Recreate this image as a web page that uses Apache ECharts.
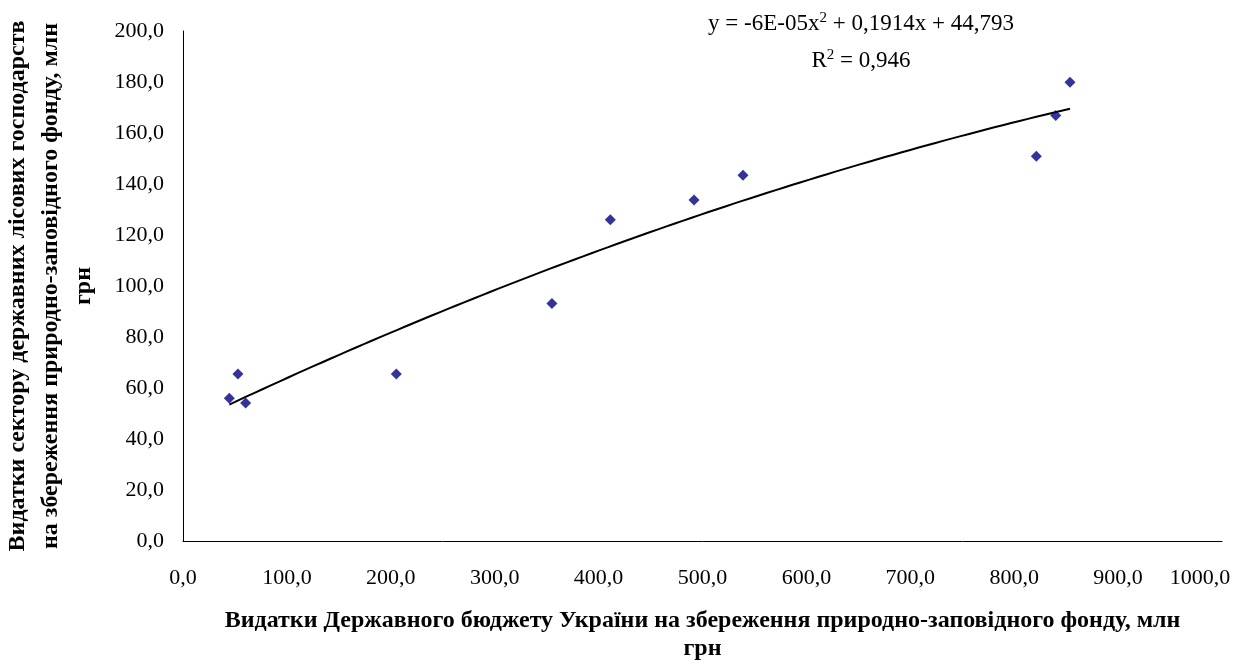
<!DOCTYPE html>
<html>
<head>
<meta charset="utf-8">
<title>Видатки на збереження природно-заповідного фонду</title>
<script src="https://cdn.jsdelivr.net/npm/echarts@6/dist/echarts.min.js"></script>
<style>
  html, body { margin: 0; padding: 0; background: #ffffff; }
  #chart { width: 1248px; height: 665px; }
</style>
</head>
<body>
<div id="chart"></div>
<script>
// State budget spending on the nature reserve fund (x), million UAH
const budgetSpending = [44.6, 52.9, 60.3, 205.3, 355.1, 411.3, 491.8, 539.0, 821.3, 840.0, 853.7];
// State forestry sector spending on the nature reserve fund (y), million UAH
const forestrySpending = [56.0, 65.5, 54.1, 65.5, 93.1, 126.0, 133.7, 143.4, 150.9, 166.9, 179.9];

const xAxisTitle = 'Видатки Державного бюджету України на збереження природно-заповідного фонду, млн\nгрн';
const yAxisTitle = 'Видатки сектору державних лісових господарств\nна збереження природно-заповідного фонду, млн\nгрн';
const trendEquation = ['y = -6E-05x', '2', ' + 0,1914x + 44,793'];
const trendR2 = ['R', '2', ' = 0,946'];

const X_MAX = 1000;
const FONT = '"Liberation Serif", "Times New Roman", serif';

// Scatter points as [x, y] pairs
const points = budgetSpending.map((x, i) => [x, forestrySpending[i]]);

// Second-order polynomial least-squares trend over the observed x range
function quadFit(xs, ys) {
  let s0 = xs.length, s1 = 0, s2 = 0, s3 = 0, s4 = 0, t0 = 0, t1 = 0, t2 = 0;
  for (let i = 0; i < xs.length; i++) {
    const x = xs[i], y = ys[i];
    s1 += x; s2 += x * x; s3 += x * x * x; s4 += x * x * x * x;
    t0 += y; t1 += x * y; t2 += x * x * y;
  }
  // Solve the 3x3 normal equations by Cramer's rule
  const M = [[s4, s3, s2], [s3, s2, s1], [s2, s1, s0]];
  const R = [t2, t1, t0];
  const det = m => m[0][0] * (m[1][1] * m[2][2] - m[1][2] * m[2][1])
                - m[0][1] * (m[1][0] * m[2][2] - m[1][2] * m[2][0])
                + m[0][2] * (m[1][0] * m[2][1] - m[1][1] * m[2][0]);
  const D = det(M);
  return [0, 1, 2].map(k => {
    const mk = M.map((row, r) => row.map((v, c) => (c === k ? R[r] : v)));
    return det(mk) / D;
  }); // [a, b, c]
}
const [qa, qb, qc] = quadFit(budgetSpending, forestrySpending);
const xMin = Math.min(...budgetSpending);
const xMax = Math.max(...budgetSpending);
const trendPoints = [];
for (let k = 0; k <= 100; k++) {
  const x = xMin + (xMax - xMin) * k / 100;
  trendPoints.push([x, qa * x * x + qb * x + qc]);
}

const fmt = v => v.toFixed(1).replace('.', ',');
// The last x label is pulled inside the chart edge
const fmtX = v => (v === X_MAX ? '{last|' + fmt(v) + '}' : fmt(v));

const richEq = {
  b: { fontFamily: FONT, fontSize: 23, fill: '#000' },
  s: { fontFamily: FONT, fontSize: 15, fill: '#000', verticalAlign: 'top', padding: [0, 0, 12, 0] }
};

const chart = echarts.init(document.getElementById('chart'), null, { renderer: 'canvas' });
chart.setOption({
  backgroundColor: '#ffffff',
  animation: false,
  textStyle: { fontFamily: FONT },
  grid: { left: 183, right: 26, top: 31, bottom: 124, containLabel: false, outerBoundsMode: 'none' },
  xAxis: {
    type: 'value',
    min: 0, max: X_MAX, interval: 100,
    axisLine: { show: true, lineStyle: { color: '#000', width: 1 } },
    axisTick: { show: false },
    splitLine: { show: false },
    axisLabel: {
      color: '#000', fontFamily: FONT, fontSize: 22, margin: 26, formatter: fmtX,
      rich: { last: { fontFamily: FONT, fontSize: 22, color: '#000', padding: [0, 44, 0, 0] } }
    },
    name: xAxisTitle,
    nameLocation: 'middle',
    nameGap: 66,
    nameTextStyle: { color: '#000', fontFamily: FONT, fontSize: 24, fontWeight: 'bold', lineHeight: 28, align: 'center', verticalAlign: 'top' }
  },
  yAxis: {
    type: 'value',
    min: 0, max: 200, interval: 20,
    axisLine: { show: true, lineStyle: { color: '#000', width: 1 } },
    axisTick: { show: false },
    splitLine: { show: false },
    axisLabel: { color: '#000', fontFamily: FONT, fontSize: 22, margin: 19, formatter: fmt },
    name: yAxisTitle,
    nameLocation: 'middle',
    nameGap: 132,
    nameTextStyle: { color: '#000', fontFamily: FONT, fontSize: 24, fontWeight: 'bold', lineHeight: 33, align: 'center', verticalAlign: 'middle' }
  },
  series: [
    {
      type: 'scatter',
      data: points,
      symbol: 'diamond',
      symbolSize: 11,
      itemStyle: { color: '#000080' },
      z: 3
    },
    {
      type: 'line',
      data: trendPoints,
      showSymbol: false,
      smooth: false,
      lineStyle: { color: '#000', width: 2 },
      z: 2
    }
  ],
  graphic: [
    {
      type: 'text',
      style: {
        x: 861, y: 24,
        text: '{b|' + trendEquation[0] + '}{s|' + trendEquation[1] + '}{b|' + trendEquation[2] + '}',
        align: 'center', verticalAlign: 'middle',
        rich: richEq
      }
    },
    {
      type: 'text',
      style: {
        x: 861, y: 61,
        text: '{b|' + trendR2[0] + '}{s|' + trendR2[1] + '}{b|' + trendR2[2] + '}',
        align: 'center', verticalAlign: 'middle',
        rich: richEq
      }
    }
  ]
});
</script>
</body>
</html>
